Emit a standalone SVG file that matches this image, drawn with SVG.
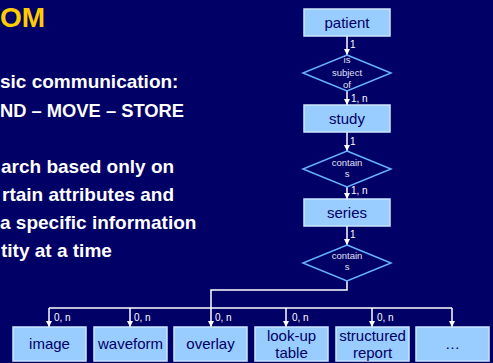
<svg xmlns="http://www.w3.org/2000/svg" width="493" height="363" viewBox="0 0 493 363">
  <style>
    .bg { fill: #000066; }
    .title { font-family: "Liberation Sans", Arial, sans-serif; font-weight: bold; font-size: 28px; fill: #FFCC00; }
    .body { font-family: "Liberation Sans", Arial, sans-serif; font-weight: bold; font-size: 19px; fill: #FFFFFF; }
    .box { fill: #99CCFF; stroke: #CCE6FF; stroke-width: 1.5; }
    .boxtext { font-family: "Liberation Sans", Arial, sans-serif; font-size: 15px; fill: #000066; text-anchor: middle; }
    .rel { fill: none; stroke: #66B3FF; stroke-width: 1.5; }
    .reltext { font-family: "Liberation Sans", Arial, sans-serif; font-size: 9.5px; fill: #E0E0F5; text-anchor: middle; }
    .conn { fill: none; stroke: #FFFFFF; stroke-width: 1.5; }
    .card { font-family: "Liberation Sans", Arial, sans-serif; font-size: 10px; fill: #FFFFFF; }
  </style>
  <defs>
    <marker id="arrow" markerUnits="userSpaceOnUse" markerWidth="6" markerHeight="6" refX="6" refY="3" orient="auto">
      <path d="M0,0 L6,3 L0,6 z" fill="#FFFFFF"/>
    </marker>
  </defs>

  <rect class="bg" x="0" y="0" width="493" height="363"/>

  <!-- slide text -->
  <g id="slide-text">
    <text class="title" x="0" y="27">OM</text>
    <text class="body" x="0" y="88">sic communication:</text>
    <text class="body" x="0" y="117" textLength="184" lengthAdjust="spacingAndGlyphs">ND – MOVE – STORE</text>
    <text class="body" x="1" y="173">arch based only on</text>
    <text class="body" x="2" y="201">rtain attributes and</text>
    <text class="body" x="0" y="229">a specific information</text>
    <text class="body" x="1" y="257">tity at a time</text>
  </g>

  <!-- connectors -->
  <g id="connectors">
    <line class="conn" x1="347" y1="36" x2="347" y2="55" marker-end="url(#arrow)"/>
    <line class="conn" x1="347" y1="91" x2="347" y2="105" marker-end="url(#arrow)"/>
    <line class="conn" x1="347" y1="132" x2="347" y2="151" marker-end="url(#arrow)"/>
    <line class="conn" x1="347" y1="187" x2="347" y2="199" marker-end="url(#arrow)"/>
    <line class="conn" x1="347" y1="226" x2="347" y2="245" marker-end="url(#arrow)"/>
    <polyline class="conn" points="347,281 347,290 211,290 211,327" marker-end="url(#arrow)"/>
    <line class="conn" x1="49" y1="308" x2="452" y2="308"/>
    <line class="conn" x1="49" y1="308" x2="49" y2="327" marker-end="url(#arrow)"/>
    <line class="conn" x1="130" y1="308" x2="130" y2="327" marker-end="url(#arrow)"/>
    <line class="conn" x1="286" y1="308" x2="286" y2="327" marker-end="url(#arrow)"/>
    <line class="conn" x1="372" y1="308" x2="372" y2="327" marker-end="url(#arrow)"/>
    <line class="conn" x1="452" y1="308" x2="452" y2="327" marker-end="url(#arrow)"/>
    <text class="card" x="350" y="48">1</text>
    <text class="card" x="351" y="102">1, n</text>
    <text class="card" x="350" y="145">1</text>
    <text class="card" x="351" y="194">1, n</text>
    <text class="card" x="350" y="238">1</text>
    <text class="card" x="54" y="321">0, n</text>
    <text class="card" x="134" y="321">0, n</text>
    <text class="card" x="215" y="321">0, n</text>
    <text class="card" x="292" y="321">0, n</text>
    <text class="card" x="377" y="321">0, n</text>
  </g>

  <!-- entities -->
  <g id="patient">
    <rect class="box" x="304" y="9" width="86" height="27"/>
    <text class="boxtext" x="347" y="28">patient</text>
  </g>
  <g id="is-subject-of">
    <polygon class="rel" points="347,55 391,73 347,91 303,73"/>
    <text class="reltext" x="347" y="63">is</text>
    <text class="reltext" x="347" y="76">subject</text>
    <text class="reltext" x="347" y="88">of</text>
  </g>
  <g id="study">
    <rect class="box" x="304" y="105" width="86" height="27"/>
    <text class="boxtext" x="347" y="124">study</text>
  </g>
  <g id="contains-1">
    <polygon class="rel" points="347,151 391,169 347,187 303,169"/>
    <text class="reltext" x="347" y="166">contain</text>
    <text class="reltext" x="347" y="177">s</text>
  </g>
  <g id="series">
    <rect class="box" x="304" y="199" width="86" height="27"/>
    <text class="boxtext" x="347" y="218">series</text>
  </g>
  <g id="contains-2">
    <polygon class="rel" points="347,245 391,263 347,281 303,263"/>
    <text class="reltext" x="347" y="259">contain</text>
    <text class="reltext" x="347" y="270">s</text>
  </g>

  <g id="image">
    <rect class="box" x="13" y="327" width="73" height="34"/>
    <text class="boxtext" x="49.5" y="349">image</text>
  </g>
  <g id="waveform">
    <rect class="box" x="94" y="327" width="73" height="34"/>
    <text class="boxtext" x="130.5" y="349">waveform</text>
  </g>
  <g id="overlay">
    <rect class="box" x="174" y="327" width="73" height="34"/>
    <text class="boxtext" x="210.5" y="349">overlay</text>
  </g>
  <g id="look-up-table">
    <rect class="box" x="255" y="327" width="73" height="34"/>
    <text class="boxtext" x="291.5" y="341">look-up</text>
    <text class="boxtext" x="291.5" y="358">table</text>
  </g>
  <g id="structured-report">
    <rect class="box" x="336" y="327" width="73" height="34"/>
    <text class="boxtext" x="372.5" y="341">structured</text>
    <text class="boxtext" x="372.5" y="358">report</text>
  </g>
  <g id="more">
    <rect class="box" x="416" y="327" width="73" height="34"/>
    <text class="boxtext" x="452.5" y="349">…</text>
  </g>
</svg>
